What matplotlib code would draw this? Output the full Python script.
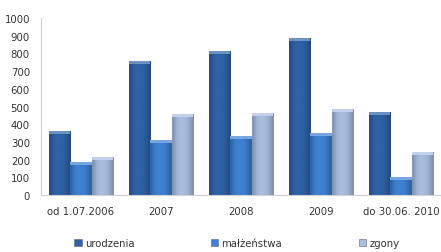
import numpy as np
import matplotlib.pyplot as plt
from matplotlib.colors import to_rgb

# --- dane ---
kategorie = ["od 1.07.2006", "2007", "2008", "2009", "do 30.06. 2010"]
urodzenia = [361, 755, 813, 887, 469]
malzenstwa = [186, 310, 333, 350, 102]
zgony = [215, 457, 463, 486, 243]

serie = ["urodzenia", "małżeństwa", "zgony"]
kolory = ["#2F62A6", "#3D80D4", "#A8BCDF"]

fig = plt.figure(figsize=(4.41, 2.53), dpi=100)
ax = fig.add_axes([0.093, 0.225, 0.907, 0.70])


def cieniuj(ax, bars, kolor):
    # lekki gradient poziomy i jasna "czapka" na górze słupka
    c = np.array(to_rgb(kolor))
    prof = np.array([0.80, 0.95, 1.0, 1.0, 0.97, 0.90, 0.78])
    img = np.clip(c[None, None, :] * prof[None, :, None], 0, 1)
    for b in bars:
        x0, y0 = b.get_x(), b.get_y()
        bw, bh = b.get_width(), b.get_height()
        im = ax.imshow(img, extent=[x0, x0 + bw, y0, y0 + bh], aspect="auto",
                       interpolation="bilinear", zorder=2)
        im.set_clip_path(b)
        cap = min(15, bh * 0.3)
        top = np.clip(c + (1 - c) * 0.3, 0, 1)
        ax.fill_between([x0, x0 + bw], y0 + bh - cap, y0 + bh, color=top,
                        linewidth=0, zorder=3)


x = np.arange(len(kategorie))
w = 0.27
for i, (vals, kol, nazwa) in enumerate(zip([urodzenia, malzenstwa, zgony], kolory, serie)):
    bars = ax.bar(x + (i - 1) * w, vals, width=w, color=kol, edgecolor="#5a6577",
                  linewidth=0.4, label=nazwa, zorder=1)
    cieniuj(ax, bars, kol)

ax.set_xlim(-0.5, len(kategorie) - 0.5)
ax.set_ylim(0, 1000)
ax.set_yticks(range(0, 1001, 100))
ax.set_xticks(x)
ax.set_xticklabels(kategorie)
ax.tick_params(axis="both", length=0, labelsize=7.3, colors="#333333")
ax.tick_params(axis="y", pad=8)
ax.tick_params(axis="x", pad=8)

for s in ["top", "right"]:
    ax.spines[s].set_visible(False)
ax.spines["left"].set_color("#d0d0d0")
ax.spines["bottom"].set_color("#d0d0d0")

ax.legend(loc="upper center", bbox_to_anchor=(0.49, -0.19), ncol=3, frameon=False,
          fontsize=7.3, handlelength=0.7, handleheight=0.7, handletextpad=0.3,
          columnspacing=7.6, labelcolor="#333333")

fig.savefig("out.png", dpi=100)
